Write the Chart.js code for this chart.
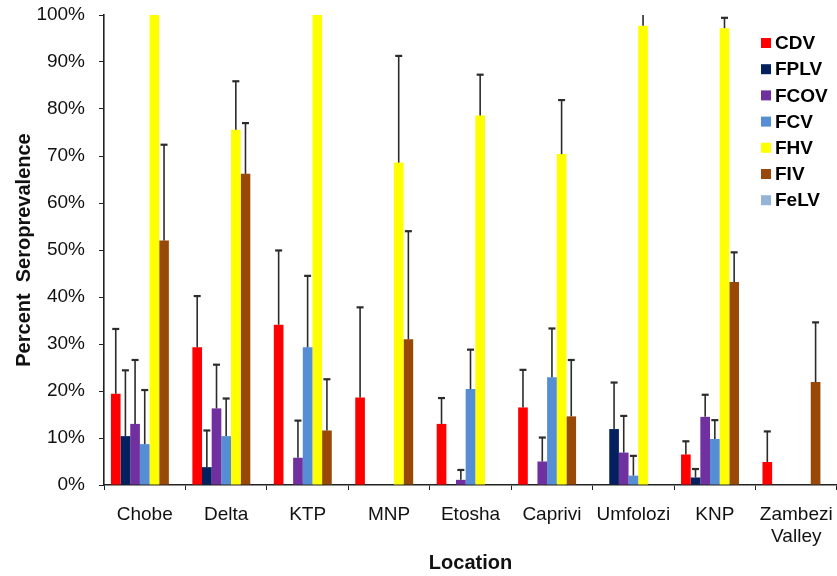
<!DOCTYPE html>
<html>
<head>
<meta charset="utf-8">
<script src="https://cdn.jsdelivr.net/npm/chart.js@4.4.1/dist/chart.umd.min.js"></script>
<style>
  html, body { margin: 0; padding: 0; background: #fff; }
  #wrap { width: 837px; height: 576px; position: relative; }
</style>
</head>
<body>
<div id="wrap"><canvas id="seroChart"></canvas></div>
<script>
// locations on the x axis
const locations = ['Chobe', 'Delta', 'KTP', 'MNP', 'Etosha', 'Caprivi', 'Umfolozi', 'KNP', ['Zambezi', 'Valley']];

// seroprevalence (%) per pathogen
const cdv  = [19.4, 29.3, 34.1, 18.6, 13.0, 16.5, 0, 6.5, 4.9];
const fplv = [10.4, 3.8, 0, 0, 0, 0, 11.9, 1.6, 0];
const fcov = [13.0, 16.3, 5.8, 0, 1.1, 5.0, 6.9, 14.5, 0];
const fcv  = [8.7, 10.4, 29.3, 0, 20.4, 22.9, 2.0, 9.8, 0];
const fhv  = [100, 75.6, 100, 68.6, 78.6, 70.4, 97.7, 97.2, 0];
const fiv  = [52.0, 66.2, 11.6, 31.0, 0, 14.6, 0, 43.2, 21.9];
const felv = [null, null, null, null, null, null, null, null, null];

// upper end of the error bars (%)
const cdvHi  = [33.2, 40.2, 49.9, 37.8, 18.5, 24.5, null, 9.3, 11.4];
const fplvHi = [24.4, 11.6, null, null, null, null, 21.8, 3.4, null];
const fcovHi = [26.6, 25.6, 13.7, null, 3.2, 10.1, 14.7, 19.2, null];
const fcvHi  = [20.2, 18.4, 44.5, null, 28.8, 33.3, 6.2, 13.8, null];
const fhvHi  = [null, 85.9, null, 91.3, 87.3, 81.9, 100.5, 99.4, null];
const fivHi  = [72.4, 77.0, 22.5, 54.0, null, 26.6, null, 49.5, 34.6];
const felvHi = [null, null, null, null, null, null, null, null, null];

const yTicks = [0, 10, 20, 30, 40, 50, 60, 70, 80, 90, 100];

const FONT = "'Liberation Sans', Arial, sans-serif";

// error bars, upward only, clipped to the plot area
const errorBars = {
  id: 'errorBars',
  afterDatasetsDraw(chart) {
    const ctx = chart.ctx;
    const area = chart.chartArea;
    const y = chart.scales.y;
    ctx.save();
    ctx.beginPath();
    ctx.rect(area.left, area.top, area.right - area.left, area.bottom - area.top);
    ctx.clip();
    ctx.strokeStyle = '#2b2b2b';
    chart.data.datasets.forEach((ds, i) => {
      const meta = chart.getDatasetMeta(i);
      (ds.errHi || []).forEach((hi, j) => {
        if (hi == null) return;
        const bar = meta.data[j];
        const top = y.getPixelForValue(hi);
        const base = y.getPixelForValue(ds.data[j] || 0);
        ctx.lineWidth = 1.6;
        ctx.beginPath();
        ctx.moveTo(bar.x, base);
        ctx.lineTo(bar.x, top);
        ctx.stroke();
        ctx.lineWidth = 2.2;
        ctx.beginPath();
        ctx.moveTo(bar.x - 3.5, top);
        ctx.lineTo(bar.x + 3.5, top);
        ctx.stroke();
      });
    });
    ctx.restore();
  }
};

// legend drawn inside the plot, top right
const insideLegend = {
  id: 'insideLegend',
  afterDraw(chart) {
    const ctx = chart.ctx;
    ctx.save();
    ctx.font = 'bold 19px ' + FONT;
    ctx.textBaseline = 'middle';
    chart.data.datasets.forEach((ds, i) => {
      const cy = 43 + i * 26.2;
      ctx.fillStyle = ds.backgroundColor;
      ctx.fillRect(761, cy - 5, 10, 10);
      ctx.fillStyle = '#000';
      ctx.fillText(ds.label, 775, cy + 1);
    });
    ctx.restore();
  }
};

const series = [
  ['CDV', cdv, cdvHi, '#ff0000'],
  ['FPLV', fplv, fplvHi, '#04205e'],
  ['FCOV', fcov, fcovHi, '#7030a0'],
  ['FCV', fcv, fcvHi, '#558ed5'],
  ['FHV', fhv, fhvHi, '#ffff00'],
  ['FIV', fiv, fivHi, '#984807'],
  ['FeLV', felv, felvHi, '#95b3d7']
];

new Chart(document.getElementById('seroChart'), {
  type: 'bar',
  data: {
    labels: locations,
    datasets: series.map(([label, data, errHi, color]) => ({
      label: label,
      data: data,
      errHi: errHi,
      backgroundColor: color,
      borderWidth: 0,
      categoryPercentage: 0.83,
      barPercentage: 1.0
    }))
  },
  options: {
    responsive: true,
    maintainAspectRatio: false,
    animation: false,
    layout: { padding: { top: 15, right: 0, left: 0, bottom: 0 } },
    plugins: {
      legend: { display: false },
      tooltip: { enabled: false }
    },
    scales: {
      x: {
        afterFit(scale) {
          scale.height = 91;
          scale.paddingLeft = 0;
          scale.paddingRight = 0;
        },
        grid: {
          display: true,
          drawOnChartArea: false,
          drawTicks: true,
          tickLength: 5,
          color: '#222',
          offset: true
        },
        border: { display: true, color: '#222', width: 1.6 },
        ticks: {
          color: '#111',
          padding: 13,
          font: { family: FONT, size: 19 },
          maxRotation: 0,
          autoSkip: false
        },
        title: {
          display: true,
          text: 'Location',
          color: '#111',
          font: { family: FONT, size: 20, weight: 'bold' },
          padding: { top: 2, bottom: 1 }
        }
      },
      y: {
        min: 0,
        max: 100,
        afterFit(scale) {
          scale.width = 104;
          scale.paddingTop = 0;
          scale.paddingBottom = 0;
        },
        afterBuildTicks(scale) { scale.ticks = yTicks.map(v => ({ value: v })); },
        grid: {
          display: true,
          drawOnChartArea: false,
          drawTicks: true,
          tickLength: 5,
          color: '#222'
        },
        border: { display: true, color: '#222', width: 1.6 },
        ticks: {
          color: '#111',
          padding: 14,
          font: { family: FONT, size: 19 },
          callback: v => v + '%'
        },
        title: {
          display: true,
          text: 'Percent  Seroprevalence',
          color: '#111',
          font: { family: FONT, size: 20, weight: 'bold' },
          padding: { top: 12, bottom: 0 }
        }
      }
    }
  },
  plugins: [errorBars, insideLegend]
});
</script>
</body>
</html>
